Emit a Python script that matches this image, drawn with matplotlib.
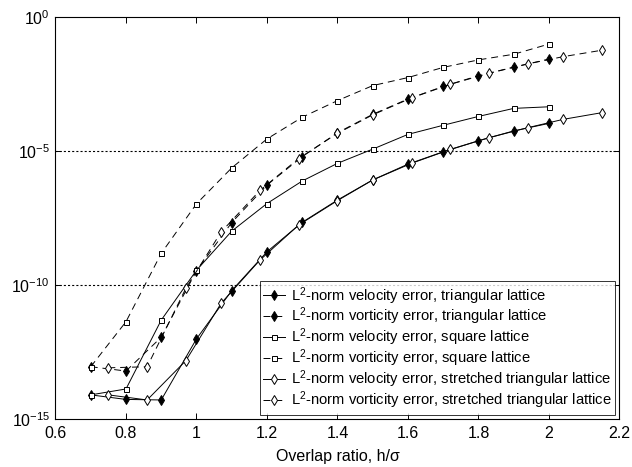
import numpy as np
import matplotlib
matplotlib.use("Agg")
import matplotlib.pyplot as plt

plt.rcParams['font.family'] = ['Liberation Sans', 'DejaVu Sans']
plt.rcParams['mathtext.default'] = 'regular'
plt.rcParams['lines.scale_dashes'] = False

# overlap ratios for the triangular / square lattices and the stretched lattice
h_tri = [0.7, 0.8, 0.9, 1.0, 1.1, 1.2, 1.3, 1.4, 1.5, 1.6, 1.7, 1.8, 1.9, 2.0]
h_str = [0.75, 0.86, 0.97, 1.07, 1.18, 1.29, 1.40, 1.50, 1.61, 1.72, 1.83, 1.94, 2.04, 2.15]

# log10 of the L2 errors
tri_vel = [-14.10, -14.27, -14.29, -12.01, -10.21, -8.76, -7.66, -6.83, -6.08, -5.49, -5.03, -4.62, -4.25, -3.97]
tri_vort = [-13.05, -13.21, -11.95, -9.47, -7.67, -6.27, -5.21, -4.32, -3.63, -3.06, -2.59, -2.19, -1.87, -1.57]
sq_vel = [-14.10, -13.88, -11.31, -9.45, -7.99, -6.96, -6.12, -5.46, -4.93, -4.38, -4.04, -3.71, -3.41, -3.35]
sq_vort = [-13.05, -11.37, -8.82, -6.97, -5.63, -4.55, -3.74, -3.12, -2.56, -2.26, -1.88, -1.60, -1.39, -1.01]
str_vel = [-14.10, -14.29, -12.82, -10.68, -9.07, -7.76, -6.85, -6.08, -5.46, -4.94, -4.50, -4.13, -3.82, -3.57]
str_vort = [-13.09, -13.05, -10.12, -8.02, -6.47, -5.28, -4.34, -3.65, -3.02, -2.51, -2.10, -1.75, -1.48, -1.24]

labels = [
    '$L^2$-norm velocity error, triangular lattice',
    '$L^2$-norm vorticity error, triangular lattice',
    '$L^2$-norm velocity error, square lattice',
    '$L^2$-norm vorticity error, square lattice',
    '$L^2$-norm velocity error, stretched triangular lattice',
    '$L^2$-norm vorticity error, stretched triangular lattice',
]

fig = plt.figure(figsize=(6.32, 4.67), dpi=100)
ax = fig.add_axes([0.0878, 0.1028, 0.8924, 0.8608])

solid = dict(color='k', lw=0.7, linestyle='-')
dashed = dict(color='k', lw=0.7, linestyle=(0, (5, 3.5)))

series = [
    (h_tri, tri_vel, solid, dict(marker='d', mfc='k', ms=5.5)),
    (h_tri, tri_vort, dashed, dict(marker='d', mfc='k', ms=5.5)),
    (h_tri, sq_vel, solid, dict(marker='s', mfc='w', ms=3.6)),
    (h_tri, sq_vort, dashed, dict(marker='s', mfc='w', ms=3.6)),
    (h_str, str_vel, solid, dict(marker='d', mfc='w', ms=5.5)),
    (h_str, str_vort, dashed, dict(marker='d', mfc='w', ms=5.5)),
]

for (x, y, ls, mk), lab in zip(series, labels):
    ax.plot(x, 10.0 ** np.array(y), mec='k', mew=0.7, label=lab, **ls, **mk)

ax.set_yscale('log')
ax.set_xlim(0.6, 2.2)
ax.set_ylim(1e-15, 1)
ax.set_xticks(np.arange(0.6, 2.21, 0.2))
ax.set_xticklabels(['0.6', '0.8', '1', '1.2', '1.4', '1.6', '1.8', '2', '2.2'])
ax.set_yticks([1e-15, 1e-10, 1e-5, 1])
ax.set_yticklabels(['$10^{-15}$', '$10^{-10}$', '$10^{-5}$', '$10^{0}$'])
ax.minorticks_off()
ax.tick_params(direction='in', top=True, right=True, labelsize=11.5, length=4, width=0.7)
ax.tick_params(axis='x', pad=5)
ax.tick_params(axis='y', pad=4)
for s in ax.spines.values():
    s.set_linewidth(0.8)

for v in [1e-10, 1e-5]:
    ax.axhline(v, color='k', lw=0.8, linestyle=(0, (1.5, 1.5)), zorder=0)

ax.set_xlabel('Overlap ratio, h/\u03c3', fontsize=11.5, labelpad=6)

leg = ax.legend(loc='lower right', fontsize=10.6, frameon=True, fancybox=False,
                edgecolor='k', handlelength=1.5, handletextpad=0.35,
                labelspacing=-0.05, borderpad=0.25, borderaxespad=0.3)
leg.get_frame().set_linewidth(0.7)

fig.savefig('out.png', dpi=100)
